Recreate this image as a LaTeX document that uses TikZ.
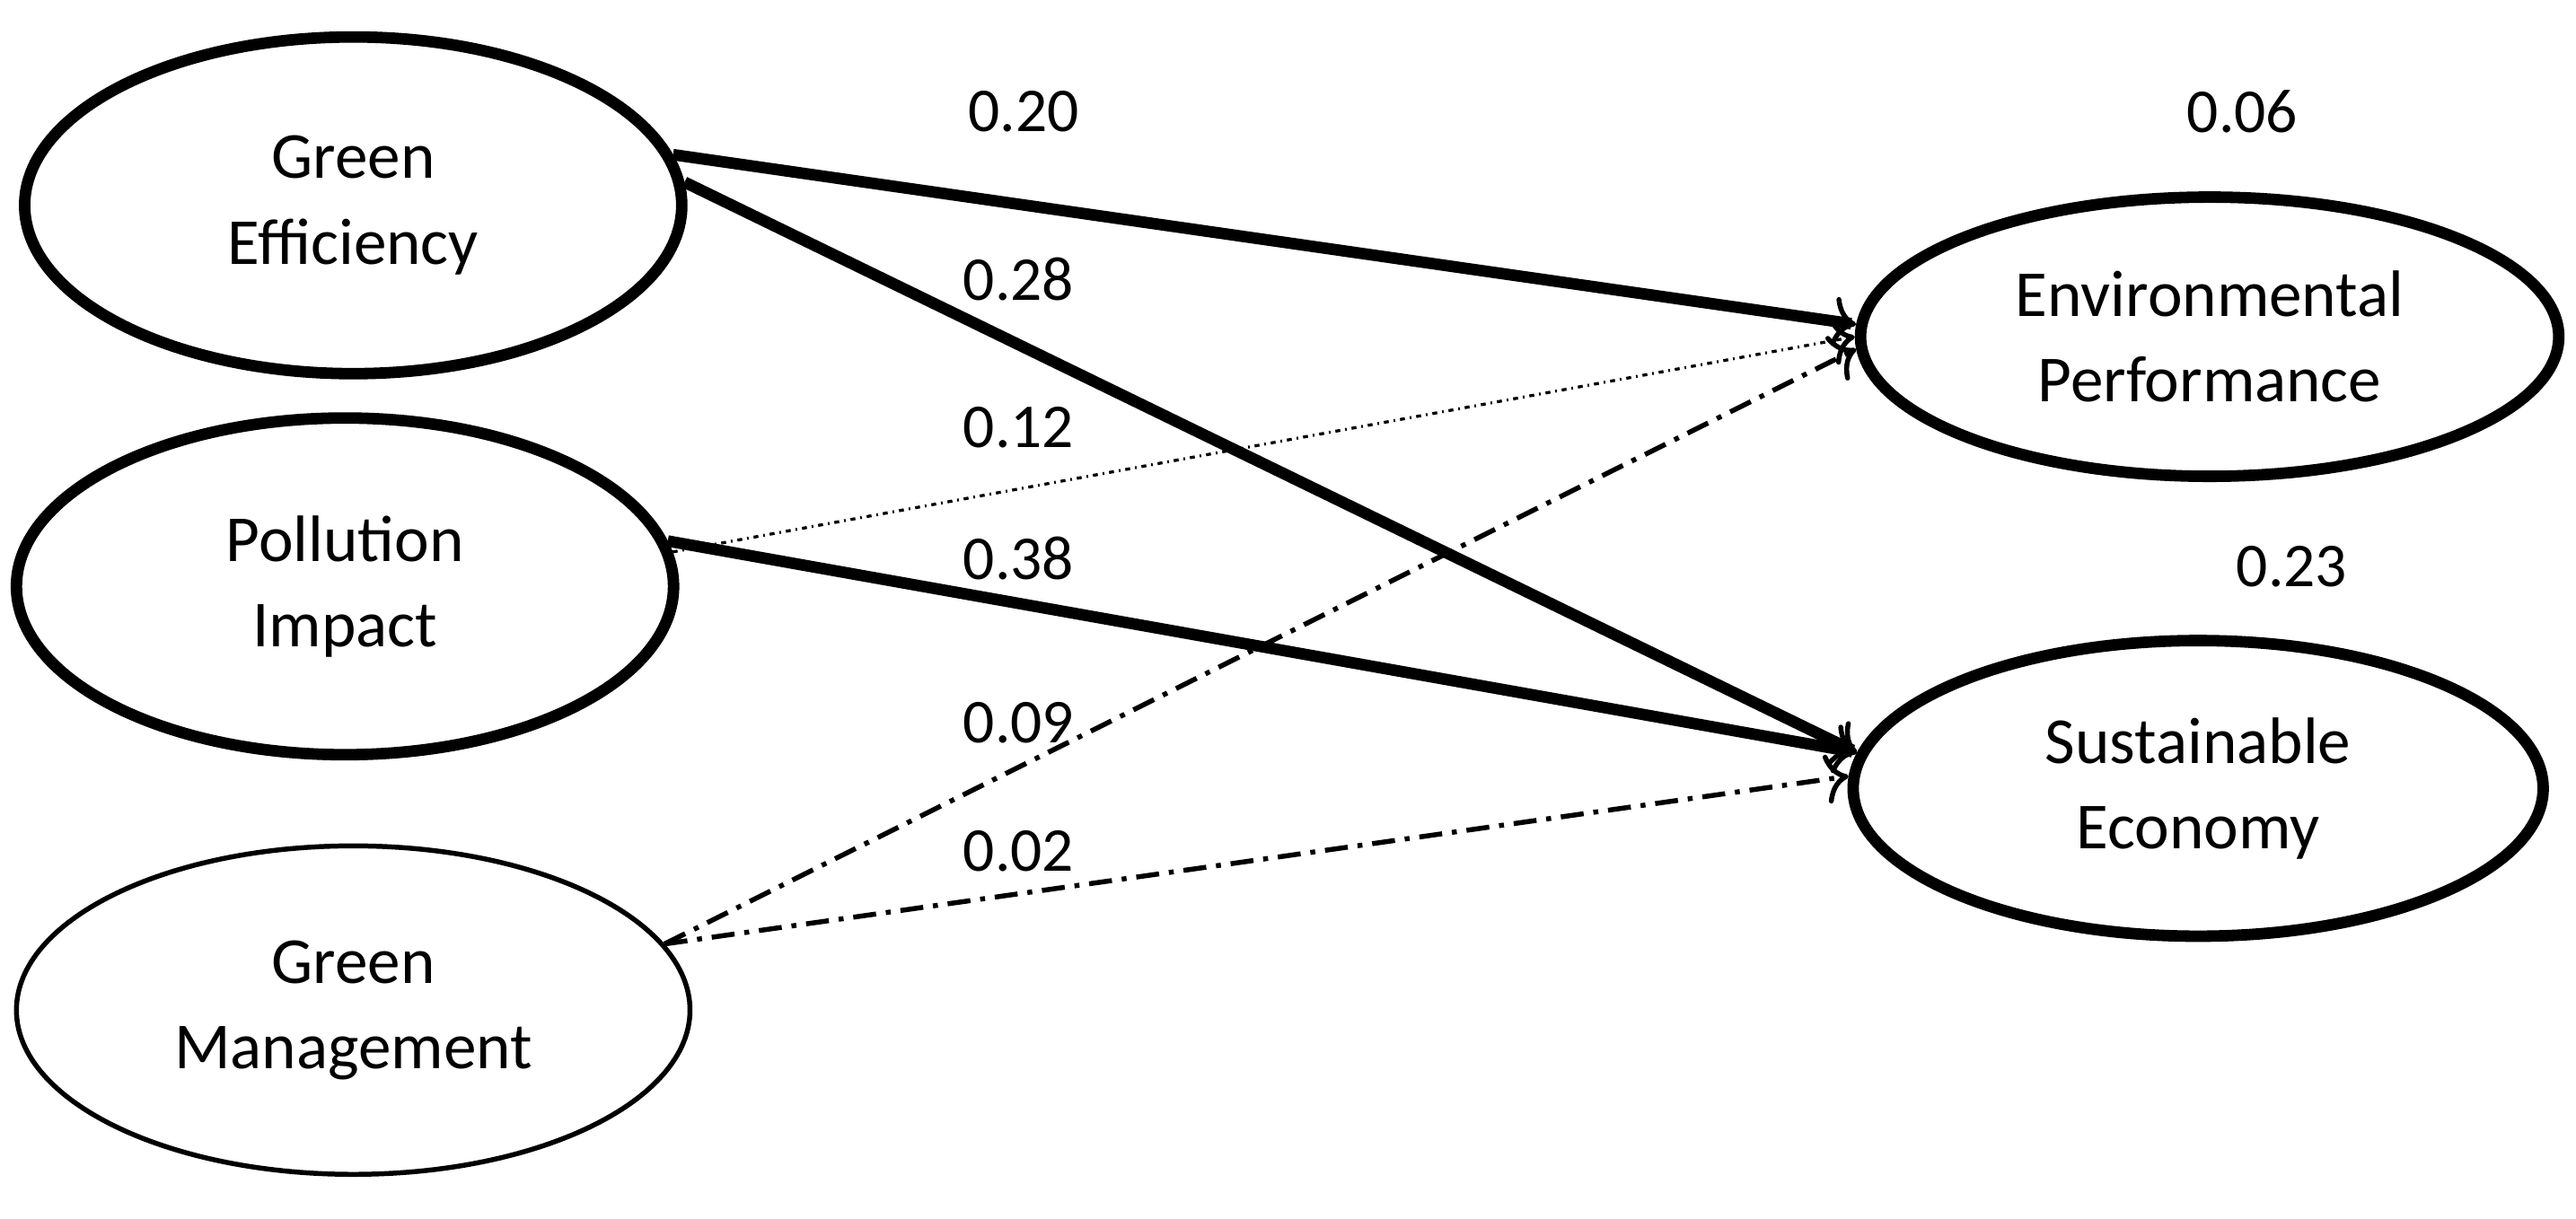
\documentclass[tikz,border=0pt]{standalone}
\usepackage{fontspec}
\setmainfont{Carlito}
\usetikzlibrary{shapes.geometric,arrows.meta}
\begin{document}
\begin{tikzpicture}[x=1pt,y=-1pt,
  lv/.style={ellipse,draw,line width=7pt,minimum width=400pt,minimum height=205pt,align=center,font=\fontsize{40}{52}\selectfont},
  lbl/.style={font=\fontsize{38}{44}\selectfont},
  tip/.style={-{To[length=14pt,width=30pt,line width=3pt]}},
  strong/.style={tip,line width=7pt},
  weak/.style={tip,line width=1.8pt,dash pattern=on 3pt off 3pt on 1pt off 3pt},
  dd/.style={tip,line width=3pt,dash pattern=on 14pt off 6pt on 3pt off 6pt}]
\useasboundingbox (0,0) rectangle (1568,742);
\node[lv] (ge) at (215,125) {Green\\Efficiency};
\node[lv] (pi) at (210,357) {Pollution\\Impact};
\node[lv,line width=3pt,minimum width=410pt,minimum height=200pt] (gm) at (215,615) {Green\\Management};
\node[lv,minimum width=425pt,minimum height=170pt] (ep) at (1345,205) {Environmental\\Performance};
\node[lv,minimum width=420pt,minimum height=180pt] (se) at (1338,480) {Sustainable\\Economy};
\draw[strong] (ge.9) -- (ep.178);
\draw[strong] (ge.4) -- (se.174);
\draw[weak] (pi.6) -- (ep.180);
\draw[strong] (pi.8) -- (se.174);
\draw[dd] (gm.12) -- (ep.182);
\draw[dd] (gm.12) -- (se.178);
\node[lbl] (l1) at (623,68) {0.20};
\node[lbl] (l2) at (1365,68) {0.06};
\node[lbl] (l3) at (620,170) {0.28};
\node[lbl] (l4) at (620,260) {0.12};
\node[lbl] (l5) at (620,340) {0.38};
\node[lbl] (l6) at (1395,345) {0.23};
\node[lbl] (l7) at (620,440) {0.09};
\node[lbl] (l8) at (620,518) {0.02};
\end{tikzpicture}
\end{document}
